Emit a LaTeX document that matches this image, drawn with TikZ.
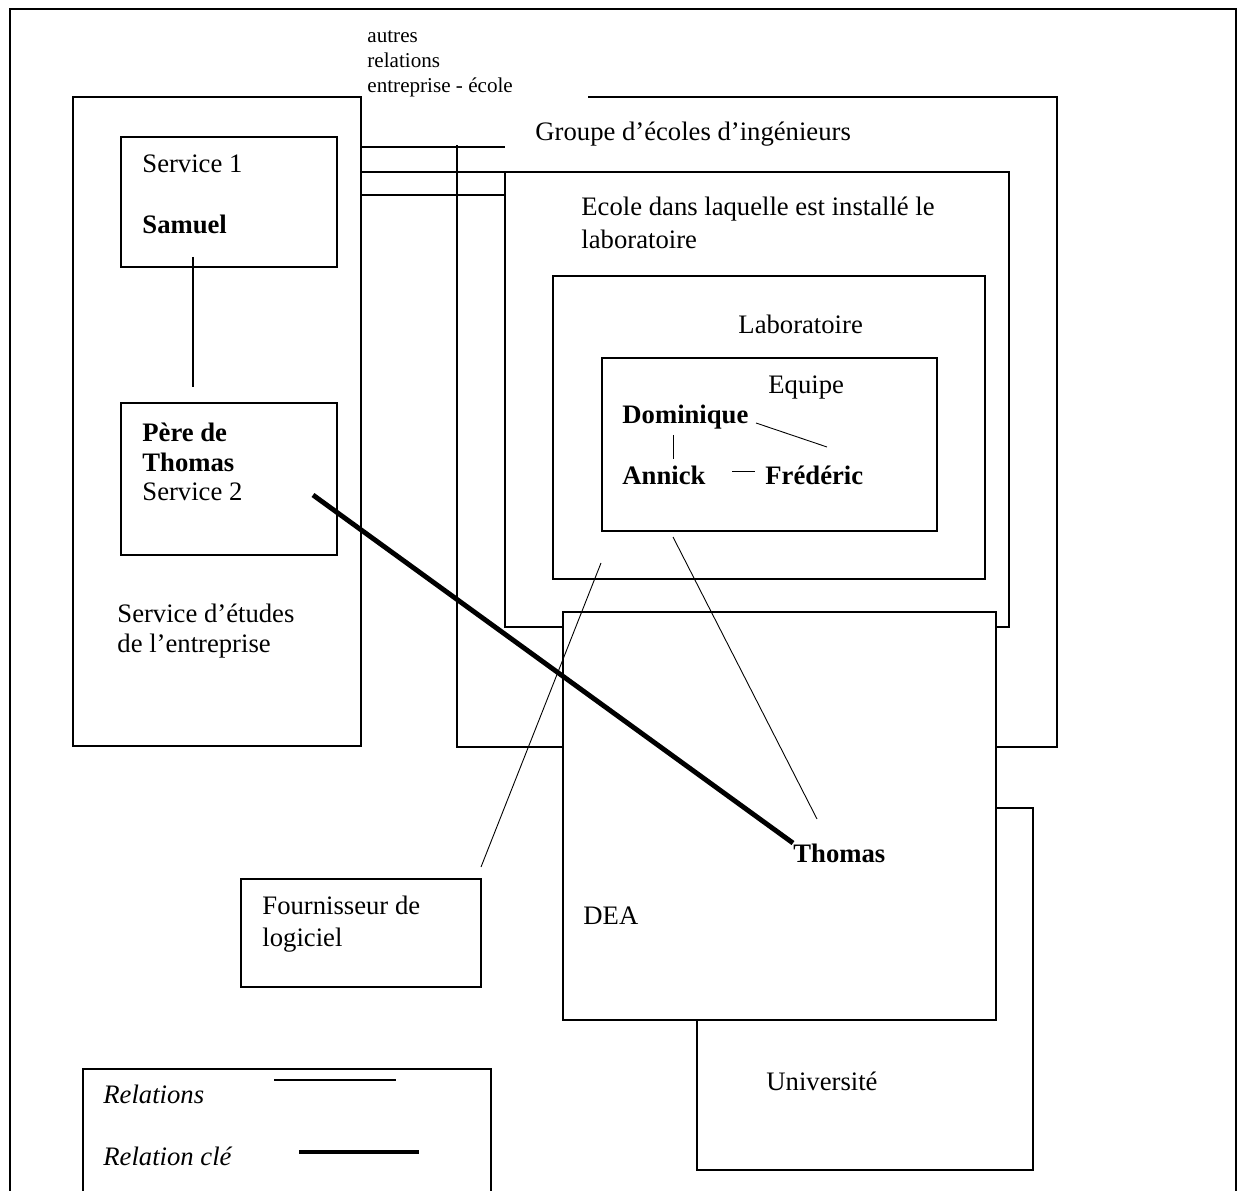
\documentclass[tikz,border=0pt]{standalone}
\usepackage{fontspec}
\setmainfont{Liberation Serif}
\usepackage{tikz}
\usetikzlibrary{calc}
\usetikzlibrary{positioning}
\tikzstyle{txt} = [anchor=base west, inner sep=0pt, font=\fontsize{12}{13.8}\selectfont]
\tikzstyle{nom} = [txt, font=\fontsize{12}{13.8}\selectfont\bfseries]
\tikzstyle{leg} = [txt, font=\fontsize{12}{13.8}\selectfont\itshape]
\tikzstyle{petit} = [txt, font=\fontsize{9.5}{11.25}\selectfont]
\tikzstyle{cadre} = [draw=black, line width=0.6pt]
\tikzstyle{rel} = [-, draw=black, line width=0.4pt]
\tikzstyle{relcle} = [-, draw=black, line width=2.2pt]

\begin{document}
\begin{tikzpicture}[x=0.45pt, y=-0.45pt]
\useasboundingbox (0,0) rectangle (1246,1191);
% cadres
\draw [cadre] (10,1191) -- (10,9) -- (1236,9) -- (1236,1191);
\draw [cadre] (73,97) rectangle (361,746);
\draw [cadre] (121,137) rectangle (337,267);
\draw [cadre] (121,403) rectangle (337,555);
\draw [cadre] (588,97) -- (1057,97) -- (1057,747) -- (457,747) -- (457,145);
\draw [cadre] (505,172) rectangle (1009,627);
\draw [cadre] (553,276) rectangle (985,579);
\draw [cadre] (602,358) rectangle (937,531);
\draw [cadre] (697,808) rectangle (1033,1170);
\draw [cadre, fill=white] (563,612) rectangle (996,1020);
\draw [cadre] (241,879) rectangle (481,987);
\draw [cadre] (83,1191) -- (83,1069) -- (491,1069) -- (491,1191);
% textes
\node [petit] (autres1) at (367,43) {autres};
\node [petit] (autres2) at (367,68) {relations};
\node [petit] (autres3) at (367,93) {entreprise - école};
\node [txt] (groupe) at (535,141) {Groupe d’écoles d’ingénieurs};
\node [txt] (ecole1) at (581,216) {Ecole dans laquelle est installé le};
\node [txt] (ecole2) at (581,249) {laboratoire};
\node [txt] (labo) at (738,334) {Laboratoire};
\node [txt] (equipe) at (768,394) {Equipe};
\node [nom] (dominique) at (622,424) {Dominique};
\node [nom] (annick) at (622,485) {Annick};
\node [nom] (frederic) at (765,485) {Frédéric};
\node [txt] (service1) at (142,173) {Service 1};
\node [nom] (samuel) at (142,234) {Samuel};
\node [nom] (pere1) at (142,442) {Père de};
\node [nom] (pere2) at (142,472) {Thomas};
\node [txt] (service2) at (142,501) {Service 2};
\node [txt] (etudes1) at (117,622) {Service d’études};
\node [txt] (etudes2) at (117,652) {de l’entreprise};
\node [nom] (thomas) at (793,862) {Thomas};
\node [txt] (dea) at (583,924) {DEA};
\node [txt] (univ) at (766,1090) {Université};
\node [txt] (fourn1) at (262,914) {Fournisseur de};
\node [txt] (fourn2) at (262,946) {logiciel};
\node [leg] (legrel) at (103,1103) {Relations};
\node [leg] (legcle) at (103,1165) {Relation clé};
% extremites des relations
\coordinate (ent1) at (361,147);
\coordinate (eco1) at (505,147);
\coordinate (ent2) at (361,172);
\coordinate (eco2) at (505,172);
\coordinate (ent3) at (361,195);
\coordinate (eco3) at (505,195);
\coordinate (sam) at (193,257);
\coordinate (per) at (193,387);
\coordinate (perT) at (313,495);
\coordinate (eqT) at (673,537);
\coordinate (thoE) at (817,819);
\coordinate (labF) at (601,563);
\coordinate (fouL) at (481,867);
\coordinate (domF) at (756,423);
\coordinate (freD) at (827,447);
\coordinate (domA) at (673,435);
\coordinate (annD) at (673,459);
\coordinate (annF) at (732,471);
\coordinate (freA) at (755,471);
% relations
\draw [cadre] (ent1) to (eco1);
\draw [cadre] (ent2) to (eco2);
\draw [cadre] (ent3) to (eco3);
\draw [cadre] (sam) to (per);
\draw [relcle] (perT) to (thomas.north west);
\draw [rel] (eqT) to (thoE);
\draw [rel] (labF) to (fouL);
\draw [rel] (domF) to (freD);
\draw [rel] (domA) to (annD);
\draw [rel] (annF) to (freA);
% legende
\draw [line width=0.9pt] ($(legrel.base west)+(171,-23)$) to ++(122,0);
\draw [line width=1.8pt] ($(legcle.base west)+(196,-13)$) to ++(120,0);
\end{tikzpicture}
\end{document}
